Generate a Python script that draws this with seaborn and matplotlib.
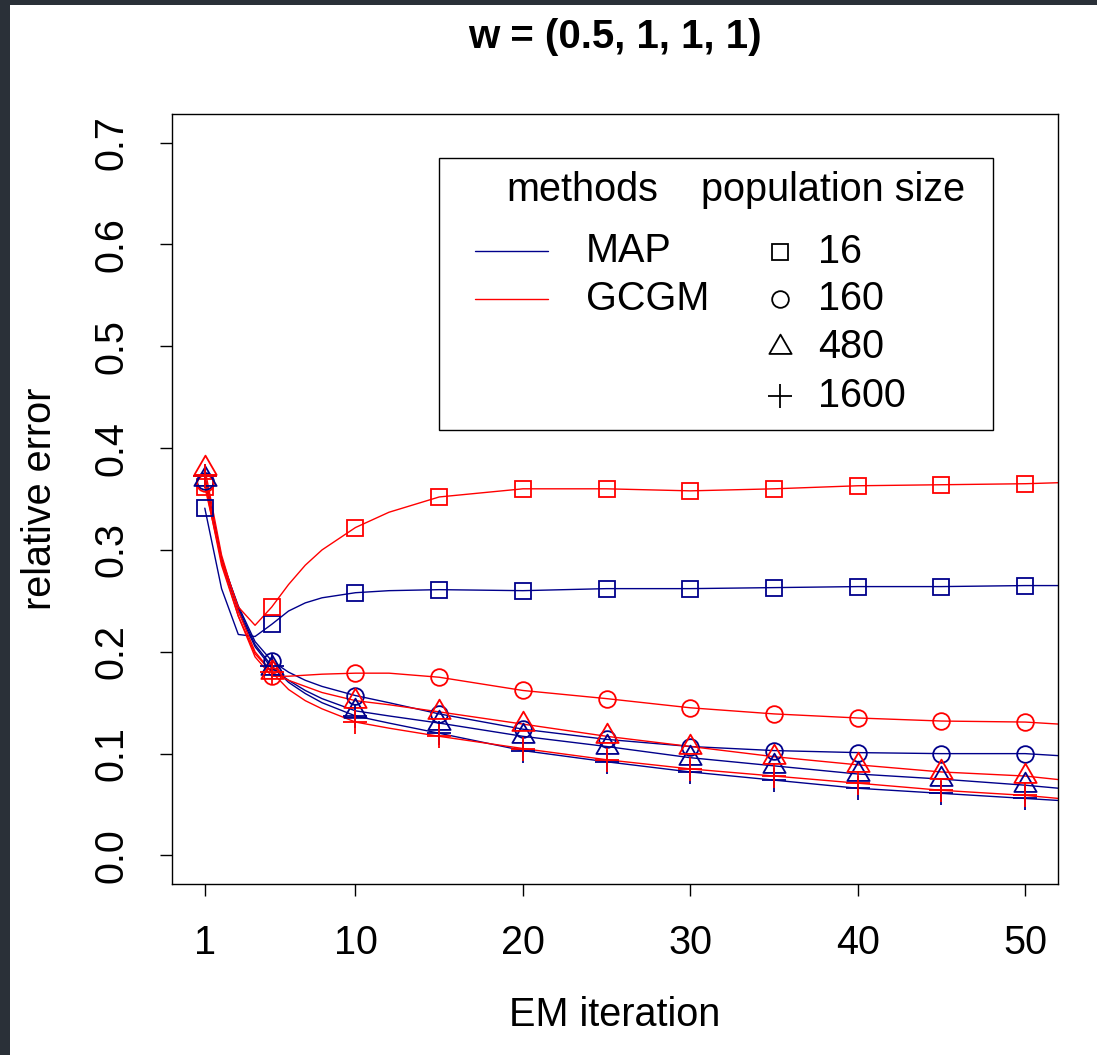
import numpy as np
import pandas as pd
import matplotlib
matplotlib.use("Agg")
import matplotlib.pyplot as plt
from matplotlib.path import Path
from matplotlib.patches import Rectangle
from matplotlib.lines import Line2D
import seaborn as sns

### DATA ###
# iterations where the curves were read off, and where the markers sit
line_iters = [1, 2, 3, 4, 5, 6, 7, 8, 10, 12, 15, 20, 25, 30, 35, 40, 45, 50, 52]
marker_iters = [1, 5, 10, 15, 20, 25, 30, 35, 40, 45, 50]
methods = ["MAP", "GCGM"]
pop_sizes = ["16", "160", "480", "1600"]

map_16 = [0.341, 0.262, 0.217, 0.215, 0.227, 0.240, 0.248, 0.253, 0.258, 0.260, 0.261, 0.260, 0.262, 0.262, 0.263, 0.264, 0.264, 0.265, 0.265]
gcgm_16 = [0.362, 0.290, 0.244, 0.226, 0.244, 0.266, 0.285, 0.300, 0.322, 0.337, 0.352, 0.360, 0.360, 0.358, 0.360, 0.363, 0.364, 0.365, 0.366]
map_160 = [0.368, 0.290, 0.245, 0.210, 0.191, 0.180, 0.172, 0.166, 0.157, 0.150, 0.139, 0.124, 0.114, 0.107, 0.103, 0.101, 0.100, 0.100, 0.098]
gcgm_160 = [0.366, 0.285, 0.235, 0.195, 0.176, 0.176, 0.177, 0.178, 0.179, 0.179, 0.175, 0.162, 0.154, 0.145, 0.139, 0.135, 0.132, 0.131, 0.129]
map_480 = [0.370, 0.290, 0.240, 0.205, 0.184, 0.172, 0.162, 0.154, 0.142, 0.137, 0.130, 0.117, 0.107, 0.096, 0.088, 0.080, 0.075, 0.069, 0.066]
gcgm_480 = [0.380, 0.295, 0.240, 0.200, 0.180, 0.172, 0.166, 0.160, 0.152, 0.148, 0.141, 0.129, 0.117, 0.107, 0.097, 0.089, 0.082, 0.078, 0.0745]
map_1600 = [0.373, 0.292, 0.243, 0.207, 0.186, 0.170, 0.159, 0.150, 0.137, 0.130, 0.120, 0.103, 0.092, 0.082, 0.074, 0.066, 0.061, 0.056, 0.054]
gcgm_1600 = [0.373, 0.288, 0.235, 0.198, 0.180, 0.163, 0.152, 0.144, 0.131, 0.125, 0.117, 0.105, 0.094, 0.085, 0.078, 0.071, 0.064, 0.059, 0.056]

x_ticks = [1, 10, 20, 30, 40, 50]
y_ticks = [0.0, 0.1, 0.2, 0.3, 0.4, 0.5, 0.6, 0.7]

method_colors = {"MAP": "#00008B", "GCGM": "#FF0000"}

### BUILD LONG TABLE ###
series = {
    ("MAP", "16"): map_16, ("GCGM", "16"): gcgm_16,
    ("MAP", "160"): map_160, ("GCGM", "160"): gcgm_160,
    ("MAP", "480"): map_480, ("GCGM", "480"): gcgm_480,
    ("MAP", "1600"): map_1600, ("GCGM", "1600"): gcgm_1600,
}
rows = []
for (method, pop), vals in series.items():
    for it, v in zip(line_iters, vals):
        rows.append({"method": method, "pop": pop, "iteration": it, "error": v})
df = pd.DataFrame(rows)
marker_df = df[df["iteration"].isin(marker_iters)]

# R style markers: triangle centred on its centroid, plus as an open path
tri_path = Path([(0, 1.555), (-1.347, -0.778), (1.347, -0.778), (0, 1.555)],
                [Path.MOVETO, Path.LINETO, Path.LINETO, Path.CLOSEPOLY])
plus_path = Path([(-1, 0), (1, 0), (0, -1), (0, 1)],
                 [Path.MOVETO, Path.LINETO, Path.MOVETO, Path.LINETO])
pop_markers = {"16": ("s", 11.3), "160": ("o", 12.0), "480": (tri_path, 18.5), "1600": (plus_path, 17.5)}

### STYLE ###
sns.set_theme(style="ticks")
plt.rcParams["font.family"] = ["Liberation Sans", "DejaVu Sans"]
plt.rcParams["text.color"] = "black"
plt.rcParams["axes.labelcolor"] = "black"
plt.rcParams["xtick.color"] = "black"
plt.rcParams["ytick.color"] = "black"
FS = 28.5

fig = plt.figure(figsize=(10.97, 10.55), dpi=100)
fig.patch.set_facecolor("#2a3038")
fig.add_artist(Rectangle((10 / 1097, 0), 1 - 10 / 1097, 1 - 5 / 1055, transform=fig.transFigure,
                         facecolor="white", edgecolor="none", zorder=-5))
ax = fig.add_axes([172 / 1097, 1 - 884 / 1055, 886 / 1097, 770 / 1055])
ax.set_facecolor("white")

### LINES ###
sns.lineplot(data=df, x="iteration", y="error", hue="method", units="pop", estimator=None,
             palette=method_colors, linewidth=1.0, legend=False, sort=True, ax=ax)

### MARKERS ###
for pop in pop_sizes:
    mk, ms = pop_markers[pop]
    sub = marker_df[marker_df["pop"] == pop]
    sns.lineplot(data=sub, x="iteration", y="error", hue="method", estimator=None,
                 palette=method_colors, linestyle="", marker=mk, markersize=ms,
                 fillstyle="none", markeredgecolor="auto", markeredgewidth=1.3,
                 legend=False, ax=ax)

ax.set_xlim(-0.96, 51.96)
ax.set_ylim(-0.028, 0.728)
ax.set_xticks(x_ticks)
ax.set_xticklabels([str(t) for t in x_ticks])
ax.set_yticks(y_ticks)
ax.set_yticklabels([f"{t:.1f}" for t in y_ticks])
ax.tick_params(axis="both", direction="out", length=8.6, width=1.0, labelsize=FS, colors="black")
ax.tick_params(axis="x", pad=20)
ax.tick_params(axis="y", pad=21)
plt.setp(ax.get_yticklabels(), rotation=90, va="center")
for sp in ax.spines.values():
    sp.set_visible(True)
    sp.set_color("black")
    sp.set_linewidth(1.0)

ax.set_xlabel("EM iteration", fontsize=FS)
ax.set_ylabel("relative error", fontsize=FS)
ax.xaxis.label.set_va("center")
ax.yaxis.label.set_va("center")
ax.xaxis.set_label_coords(0.5, -0.170)
ax.yaxis.set_label_coords(-0.149, 0.5)

fig.text(615 / 1097, 1 - 37 / 1055, "w = (0.5, 1, 1, 1)", ha="center", va="center",
         fontsize=29, fontweight="bold", color="black")

### LEGEND (drawn by hand, R style) ###
def ax_x(px):
    return (px - 172) / 886

def ax_y(py):
    return (884 - py) / 770

ax.add_patch(Rectangle((ax_x(439), ax_y(430)), ax_x(993) - ax_x(439), ax_y(158) - ax_y(430),
                       transform=ax.transAxes, facecolor="white", edgecolor="black",
                       linewidth=1.0, zorder=5, clip_on=False))
ax.text(ax_x(582), ax_y(190), "methods", transform=ax.transAxes, ha="center", va="center", fontsize=FS, zorder=6)
ax.text(ax_x(833), ax_y(190), "population size", transform=ax.transAxes, ha="center", va="center", fontsize=FS, zorder=6)
for method, py in zip(methods, [251, 299]):
    ax.add_line(Line2D([ax_x(475), ax_x(548)], [ax_y(py), ax_y(py)], transform=ax.transAxes,
                       color=method_colors[method], linewidth=1.0, zorder=6))
    ax.text(ax_x(586), ax_y(py), method, transform=ax.transAxes, ha="left", va="center", fontsize=FS, zorder=6)
for pop, py in zip(pop_sizes, [252, 299, 347, 396]):
    mk, ms = pop_markers[pop]
    ax.plot([ax_x(780)], [ax_y(py)], transform=ax.transAxes, linestyle="", marker=mk, markersize=ms,
            fillstyle="none", color="black", markeredgewidth=1.3, zorder=6, clip_on=False)
    ax.text(ax_x(818), ax_y(py), pop, transform=ax.transAxes, ha="left", va="center", fontsize=FS, zorder=6)

fig.savefig("out.png", dpi=100)
